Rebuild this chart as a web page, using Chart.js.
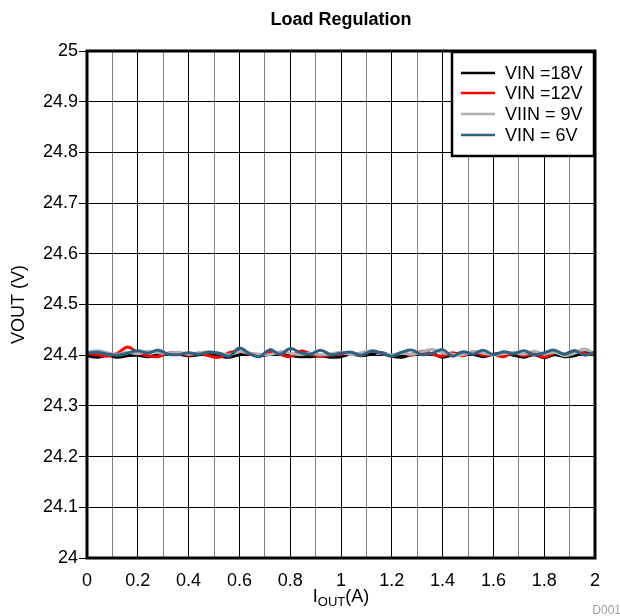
<!DOCTYPE html>
<html>
<head>
<meta charset="utf-8">
<script src="https://cdn.jsdelivr.net/npm/chart.js@4/dist/chart.umd.min.js"></script>
<style>
  html, body { margin: 0; padding: 0; background: #fff; }
  #wrap { width: 620px; height: 616px; }
</style>
</head>
<body>
<div id="wrap"><canvas id="chart" width="620" height="616"></canvas></div>
<script>
const iout = [0,0.04,0.08,0.12,0.16,0.2,0.24,0.28,0.32,0.36,0.4,0.44,0.48,0.52,0.56,0.6,0.64,0.68,0.72,0.76,0.8,0.84,0.88,0.92,0.96,1,
    1.04,1.08,1.12,1.16,1.2,1.24,1.28,1.32,1.36,1.4,1.44,1.48,1.52,1.56,1.6,1.64,1.68,1.72,1.76,1.8,1.84,1.88,1.92,1.96,2]

const vin18 = [24.399,24.396,24.400,24.396,24.399,24.400,24.397,24.401,24.403,24.402,24.399,24.401,24.403,24.399,24.396,24.401,24.404,24.399,24.402,24.405,24.400,24.397,24.397,24.399,24.396,24.397,
    24.402,24.399,24.402,24.405,24.398,24.396,24.402,24.405,24.403,24.396,24.401,24.405,24.402,24.397,24.402,24.404,24.400,24.396,24.401,24.395,24.401,24.397,24.399,24.405,24.400]
const vin12 = [24.404,24.401,24.398,24.404,24.416,24.405,24.399,24.397,24.404,24.405,24.400,24.404,24.399,24.396,24.405,24.408,24.402,24.399,24.406,24.402,24.397,24.408,24.403,24.398,24.401,24.402,
    24.405,24.400,24.408,24.403,24.399,24.405,24.400,24.408,24.402,24.398,24.405,24.399,24.407,24.400,24.402,24.397,24.405,24.399,24.403,24.396,24.405,24.402,24.409,24.403,24.402]
const vin9 = [24.406,24.409,24.405,24.402,24.406,24.403,24.408,24.405,24.404,24.406,24.402,24.405,24.407,24.404,24.401,24.407,24.404,24.402,24.401,24.407,24.404,24.401,24.404,24.401,24.403,24.406,
    24.401,24.405,24.409,24.404,24.401,24.404,24.402,24.407,24.411,24.405,24.402,24.401,24.407,24.404,24.401,24.403,24.406,24.402,24.408,24.402,24.406,24.399,24.404,24.412,24.402]
const vin6 = [24.404,24.406,24.402,24.400,24.404,24.409,24.404,24.410,24.402,24.401,24.405,24.402,24.406,24.404,24.398,24.414,24.403,24.397,24.411,24.402,24.413,24.405,24.402,24.410,24.401,24.404,
    24.406,24.400,24.408,24.404,24.398,24.406,24.410,24.401,24.404,24.411,24.398,24.407,24.402,24.410,24.401,24.407,24.403,24.409,24.401,24.405,24.410,24.402,24.409,24.400,24.406]

const seriesLabels = ["VIN =18V", "VIN =12V", "VIIN = 9V", "VIN = 6V"]
const seriesColors = ["#000000", "#ff0000", "#b0b0b0", "#2e6282"]
const seriesValues = [vin18, vin12, vin9, vin6]

const font = "'Liberation Sans', Arial, sans-serif"

const boxLegend = {
    id: "boxLegend",
    afterDatasetsDraw(chart) {
        const ctx = chart.ctx
        const area = chart.chartArea
        const x0 = 451, y0 = area.top, w = area.right - x0, h = 106
        ctx.save()
        ctx.fillStyle = "#fff"
        ctx.fillRect(x0, y0, w, h)
        ctx.strokeStyle = "#000"
        ctx.lineWidth = 2.5
        ctx.strokeRect(x0 + 1, y0 + 1, w - 2, h - 2)
        ctx.font = "18px " + font
        ctx.textBaseline = "middle"
        const rows = [22, 42, 63, 84]
        seriesLabels.forEach((label, i) => {
            const y = y0 + rows[i]
            ctx.strokeStyle = seriesColors[i]
            ctx.lineWidth = 2.5
            ctx.beginPath()
            ctx.moveTo(461, y)
            ctx.lineTo(495, y)
            ctx.stroke()
            ctx.fillStyle = "#000"
            ctx.fillText(label, 505, y + 1)
        })
        ctx.restore()
    },
    afterDraw(chart) {
        const ctx = chart.ctx
        const area = chart.chartArea
        ctx.save()
        ctx.strokeStyle = "#000"
        ctx.lineWidth = 3
        ctx.strokeRect(area.left, area.top, area.right - area.left, area.bottom - area.top)

        ctx.fillStyle = "#000"
        ctx.textBaseline = "alphabetic"
        ctx.font = "bold 18px " + font
        ctx.textAlign = "center"
        ctx.fillText("Load Regulation", 341, 25)

        // x axis title with subscript
        const cx = (area.left + area.right) / 2
        ctx.textAlign = "left"
        ctx.font = "18px " + font
        const wI = ctx.measureText("I").width
        const wA = ctx.measureText("(A)").width
        ctx.font = "13px " + font
        const wS = ctx.measureText("OUT").width
        let x = cx - (wI + wS + wA) / 2
        ctx.font = "18px " + font
        ctx.fillText("I", x, 602)
        x += wI
        ctx.font = "13px " + font
        ctx.fillText("OUT", x, 606)
        x += wS
        ctx.font = "18px " + font
        ctx.fillText("(A)", x, 602)

        ctx.fillStyle = "#a0a0a0"
        ctx.font = "12px " + font
        ctx.textAlign = "right"
        ctx.fillText("D001", 621, 614)
        ctx.restore()
    }
}

new Chart(document.getElementById("chart").getContext("2d"), {
    type: "line",
    data: {
        datasets: seriesValues.map((vals, i) => ({
            label: seriesLabels[i],
            data: iout.map((x, j) => ({ x: x, y: vals[j] })),
            borderColor: seriesColors[i],
            borderWidth: 3,
            pointRadius: 0,
            tension: 0.4,
            order: 4 - i
        }))
    },
    options: {
        responsive: false,
        animation: false,
        layout: { padding: { top: 51, right: 25, left: 0, bottom: 0 } },
        plugins: {
            legend: { display: false },
            title: { display: false },
            tooltip: { enabled: false }
        },
        scales: {
            x: {
                type: "linear",
                min: 0,
                max: 2,
                border: { display: false },
                afterFit: (scale) => { scale.height = 58 },
                afterBuildTicks: (scale) => {
                    scale.ticks = []
                    for (let k = 0; k <= 20; k++) scale.ticks.push({ value: k / 10 })
                },
                grid: {
                    drawTicks: false,
                    lineWidth: 1,
                    color: (c) => (Math.round(c.tick.value * 10) % 2 === 0 ? "#000" : "#808080")
                },
                ticks: {
                    padding: 12,
                    color: "#000",
                    font: { family: font, size: 18 },
                    autoSkip: false,
                    maxRotation: 0,
                    callback: (v) => (Math.round(v * 10) % 2 === 0 ? String(+v.toFixed(1)) : "")
                }
            },
            y: {
                min: 24,
                max: 25,
                border: { display: false },
                afterFit: (scale) => { scale.width = 87 },
                afterBuildTicks: (scale) => {
                    scale.ticks = []
                    for (let k = 0; k <= 10; k++) scale.ticks.push({ value: 24 + k / 10 })
                },
                grid: { color: "#000", lineWidth: 1, tickLength: 8 },
                ticks: {
                    padding: 1,
                    color: "#000",
                    font: { family: font, size: 18 },
                    callback: (v) => String(+v.toFixed(1))
                },
                title: {
                    display: true,
                    text: "VOUT (V)",
                    color: "#000",
                    font: { family: font, size: 18 },
                    padding: { top: 8, bottom: 4 }
                }
            }
        }
    },
    plugins: [boxLegend]
})
</script>
</body>
</html>
